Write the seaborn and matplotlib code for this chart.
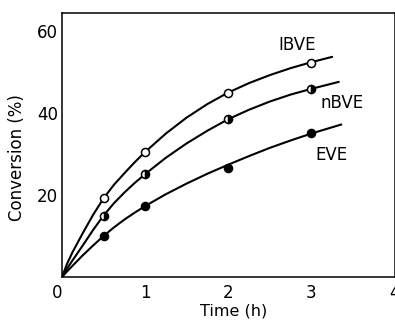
import matplotlib
matplotlib.use("Agg")
import matplotlib.pyplot as plt
import matplotlib.transforms as mtransforms
import seaborn as sns

# measured points
time_pts = [0.5, 1, 2, 3]
ibve_pts = [19.2, 30.5, 45.0, 52.2]
nbve_pts = [15.0, 25.1, 38.5, 45.9]
eve_pts = [10.0, 17.3, 26.6, 35.1]

# fitted curves
ibve_t = [0, 0.0625, 0.125, 0.25, 0.375, 0.5, 0.625, 0.75, 0.875, 1, 1.25, 1.5, 1.75, 2, 2.25, 2.5, 2.75, 3, 3.25]
ibve_c = [0, 3.3, 6.0, 10.7, 15.2, 19.2, 22.5, 25.3, 28.0, 30.5, 35.0, 38.9, 42.2, 45.0, 47.3, 49.25, 50.95, 52.4, 53.7]
nbve_t = [0, 0.0625, 0.125, 0.25, 0.375, 0.5, 0.625, 0.75, 0.875, 1, 1.25, 1.5, 1.75, 2, 2.25, 2.5, 2.75, 3, 3.33]
nbve_c = [0, 2.1, 4.0, 7.7, 11.5, 15.0, 18.0, 20.6, 22.95, 25.1, 29.1, 32.6, 35.7, 38.5, 40.8, 42.8, 44.5, 45.9, 47.6]
eve_t = [0, 0.0625, 0.125, 0.25, 0.375, 0.5, 0.625, 0.75, 0.875, 1, 1.25, 1.5, 1.75, 2, 2.25, 2.5, 2.75, 3, 3.36]
eve_c = [0, 1.4, 2.7, 5.3, 7.7, 10.0, 12.1, 14.0, 15.7, 17.3, 20.2, 22.8, 25.2, 27.4, 29.5, 31.5, 33.3, 35.0, 37.2]

x_ticks = [0, 1, 2, 3, 4]
y_ticks = [20, 40, 60]
series_labels = ["IBVE", "nBVE", "EVE"]

sns.set_style("white")
plt.rcParams["font.family"] = ["DejaVu Sans"]

fig = plt.figure(figsize=(3.95, 3.21), dpi=100)
W, H = 395, 321
L, R, T, B = 62, 394.5, 13, 277
ax = fig.add_axes([L / W, 1 - B / H, (R - L) / W, (B - T) / H])

curves = [(ibve_t, ibve_c), (nbve_t, nbve_c), (eve_t, eve_c)]
for t, c in curves:
    sns.lineplot(x=t, y=c, ax=ax, color="black", linewidth=1.5, sort=False, estimator=None)

marker_common = dict(marker="o", linestyle="none", markersize=5.8, markeredgewidth=1.1,
                     markeredgecolor="black", estimator=None, color="black")
sns.lineplot(x=time_pts, y=ibve_pts, ax=ax, markerfacecolor="white", **marker_common)
sns.lineplot(x=time_pts, y=nbve_pts, ax=ax, markerfacecolor="black", fillstyle="right",
             markerfacecoloralt="white", **marker_common)
sns.lineplot(x=time_pts, y=eve_pts, ax=ax, markerfacecolor="black", **marker_common)

ax.set_xlim(0, 4)
ax.set_ylim(0, 64.4)
ax.set_xticks(x_ticks)
ax.set_yticks(y_ticks)
ax.set_xticklabels([str(v) for v in x_ticks])
ax.set_yticklabels([str(v) for v in y_ticks])
ax.tick_params(axis="x", direction="in", length=7, width=1.2, pad=5, labelsize=12, colors="black")
ax.tick_params(axis="y", direction="in", length=7, width=1.2, pad=3, labelsize=12, colors="black")
for s in ax.spines.values():
    s.set_linewidth(1.1)
    s.set_color("black")

# origin label slightly left, as in the reference
lbl0 = ax.get_xticklabels()[0]
lbl0.set_transform(lbl0.get_transform() + mtransforms.ScaledTranslation(-5 / 100, 0, fig.dpi_scale_trans))

ax.set_xlabel("Time (h)", fontsize=11.5, color="black")
ax.set_ylabel("Conversion (%)", fontsize=12, color="black")
ax.xaxis.set_label_coords((234 - L) / (R - L), -(303.5 - B) / (B - T))
ax.yaxis.set_label_coords(-(L - 26) / (R - L), (B - 158) / (B - T))

label_pos = [(2.83, 56.6), (3.37, 42.4), (3.24, 29.8)]
for name, (lx, ly) in zip(series_labels, label_pos):
    ax.text(lx, ly, name, fontsize=12, ha="center", va="center", color="black")

fig.savefig("out.png", dpi=100)
